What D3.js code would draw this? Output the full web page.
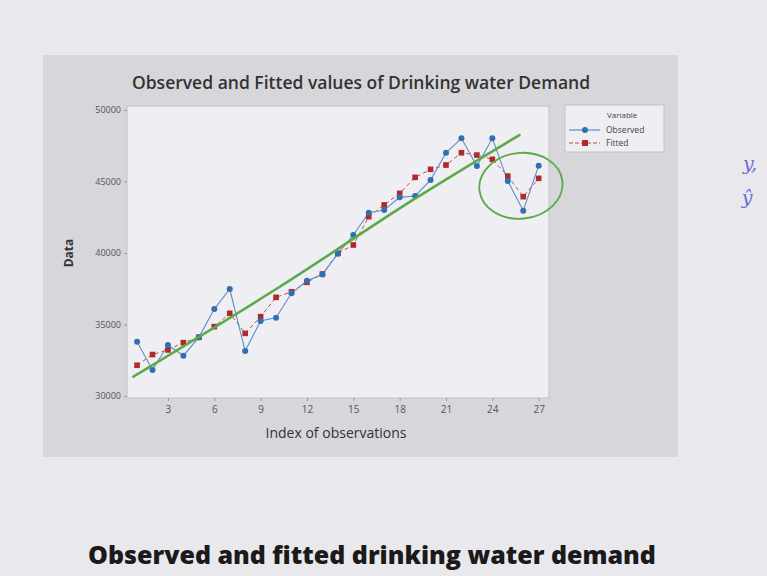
<!DOCTYPE html>
<html>
<head>
<meta charset="utf-8">
<script src="https://cdn.jsdelivr.net/npm/d3@7"></script>
<style>
  html, body { margin: 0; padding: 0; background: #e9e8ec; }
  svg { display: block; }
</style>
</head>
<body>
<svg id="chart" width="767" height="576"></svg>
<script>
// Observation index and the two series: measured demand and model fit
const index = d3.range(1, 28);
const observed = [33800, 31820, 33570, 32820, 34100, 36080, 37480, 33150, 35240, 35480,
                  37180, 38060, 38500, 39950, 41260, 42820, 43010, 43890, 43990, 45100,
                  47010, 48020, 46080, 48020, 45030, 42960, 46110];
const fitted   = [32150, 32900, 33220, 33730, 34100, 34850, 35780, 34380, 35550, 36900,
                  37290, 37950, 38530, 39980, 40560, 42540, 43360, 44170, 45290, 45850,
                  46150, 47010, 46850, 46550, 45380, 43940, 45220];
const xTicks = [3, 6, 9, 12, 15, 18, 21, 24, 27];
const yTicks = [30000, 35000, 40000, 45000, 50000];
const seriesNames = ["Observed", "Fitted"];

// Hand-drawn trend stroke and circled region (index, demand)
const trendStroke = [[0.76, 31350], [10.24, 37640], [18.86, 43710], [25.75, 48250]];
const circled = { cx: 25.85, cy: 44700, rx: 2.7, ry: 2300 };

const svg = d3.select("#chart");
const font = "Open Sans, sans-serif";

// Grey chart panel
svg.append("rect").attr("x", 43).attr("y", 55).attr("width", 635).attr("height", 402)
  .attr("fill", "#d7d6da");

const plot = { left: 127, top: 106, right: 549, bottom: 398 };

const x = d3.scaleLinear().domain([0, 27.7]).range([121.6, 549.5]);
const y = d3.scaleLinear().domain([30000, 50000]).range([396, 110]);

// Plot area
svg.append("rect")
  .attr("x", plot.left).attr("y", plot.top)
  .attr("width", plot.right - plot.left).attr("height", plot.bottom - plot.top)
  .attr("fill", "#efeef2").attr("stroke", "#c4c3c7").attr("stroke-width", 1);

// Title
svg.append("text").attr("x", 361).attr("y", 89)
  .attr("text-anchor", "middle")
  .attr("font-family", font).attr("font-size", 17.5).attr("font-weight", 600)
  .attr("fill", "#333").text("Observed and Fitted values of Drinking water Demand");

// Axes
const xAxis = d3.axisBottom(x).tickValues(xTicks).tickSize(3).tickPadding(5);
const gx = svg.append("g").attr("transform", `translate(0,${plot.bottom})`).call(xAxis);
gx.select(".domain").remove();
gx.selectAll("line").attr("stroke", "#999");
gx.selectAll("text").attr("font-family", font).attr("font-size", 10).attr("fill", "#555");

const yAxis = d3.axisLeft(y).tickValues(yTicks).tickFormat(d3.format("d")).tickSize(3).tickPadding(3);
const gy = svg.append("g").attr("transform", `translate(${plot.left},0)`).call(yAxis);
gy.select(".domain").remove();
gy.selectAll("line").attr("stroke", "#999");
gy.selectAll("text").attr("font-family", font).attr("font-size", 9).attr("fill", "#555");

// Axis titles
svg.append("text").attr("x", 336).attr("y", 438).attr("text-anchor", "middle")
  .attr("font-family", font).attr("font-size", 14).attr("fill", "#333")
  .text("Index of observations");
svg.append("text").attr("transform", "translate(73,253) rotate(-90)")
  .attr("text-anchor", "middle")
  .attr("font-family", font).attr("font-size", 12).attr("font-weight", "bold")
  .attr("fill", "#333").text("Data");

const line = d3.line().x((d, i) => x(index[i])).y(d => y(d));

// Fitted series: dashed red line with square markers
svg.append("path").datum(fitted).attr("d", line)
  .attr("fill", "none").attr("stroke", "#c05050").attr("stroke-width", 1)
  .attr("stroke-dasharray", "4,3");
// Observed series: blue line with round markers
svg.append("path").datum(observed).attr("d", line)
  .attr("fill", "none").attr("stroke", "#5b8fc8").attr("stroke-width", 1.1);

svg.append("g").selectAll("rect").data(fitted).join("rect")
  .attr("x", (d, i) => x(index[i]) - 2.8).attr("y", d => y(d) - 2.8)
  .attr("width", 5.6).attr("height", 5.6)
  .attr("fill", "#b02a2a");
svg.append("g").selectAll("circle").data(observed).join("circle")
  .attr("cx", (d, i) => x(index[i])).attr("cy", d => y(d)).attr("r", 3)
  .attr("fill", "#2f6fb2");

// Green hand-drawn annotations
svg.append("path").datum(trendStroke)
  .attr("d", d3.line().curve(d3.curveCatmullRom).x(d => x(d[0])).y(d => y(d[1])))
  .attr("fill", "none").attr("stroke", "#5aaa4a").attr("stroke-width", 2.6)
  .attr("stroke-linecap", "round");
svg.append("ellipse")
  .attr("cx", x(circled.cx)).attr("cy", y(circled.cy))
  .attr("rx", x(circled.cx + circled.rx) - x(circled.cx))
  .attr("ry", y(circled.cy) - y(circled.cy + circled.ry))
  .attr("transform", `rotate(-6,${x(circled.cx)},${y(circled.cy)})`)
  .attr("fill", "none").attr("stroke", "#5aaa4a").attr("stroke-width", 1.8);

// Legend
const lg = svg.append("g");
lg.append("rect").attr("x", 565).attr("y", 105).attr("width", 99).attr("height", 47)
  .attr("fill", "#efeef2").attr("stroke", "#c4c3c7");
lg.append("text").attr("x", 607).attr("y", 118)
  .attr("font-family", font).attr("font-size", 8).attr("fill", "#444")
  .text("Variable");
seriesNames.forEach((name, i) => {
  const yy = 130 + i * 13;
  const isObs = i === 0;
  lg.append("line").attr("x1", 569).attr("x2", 600).attr("y1", yy).attr("y2", yy)
    .attr("stroke", isObs ? "#5b8fc8" : "#c05050").attr("stroke-width", 1.2)
    .attr("stroke-dasharray", isObs ? null : "4,2");
  if (isObs) {
    lg.append("circle").attr("cx", 585).attr("cy", yy).attr("r", 3).attr("fill", "#2f6fb2");
  } else {
    lg.append("rect").attr("x", 582).attr("y", yy - 3).attr("width", 6).attr("height", 6).attr("fill", "#b02a2a");
  }
  lg.append("text").attr("x", 606).attr("y", yy + 3)
    .attr("font-family", font).attr("font-size", 8.5).attr("fill", "#444")
    .text(name);
});

// Margin note
svg.append("text").attr("x", 750).attr("y", 170).attr("text-anchor", "middle")
  .attr("font-family", "DejaVu Serif, serif").attr("font-style", "italic").attr("font-size", 19)
  .attr("fill", "#6b6bd6").text("y,");
svg.append("text").attr("x", 747).attr("y", 204).attr("text-anchor", "middle")
  .attr("font-family", "DejaVu Serif, serif").attr("font-style", "italic").attr("font-size", 19)
  .attr("fill", "#6b6bd6").text("ŷ");

// Caption
svg.append("text").attr("x", 372).attr("y", 564).attr("text-anchor", "middle")
  .attr("font-family", font).attr("font-weight", 800).attr("font-size", 25)
  .attr("fill", "#1a1a1a").text("Observed and fitted drinking water demand");
</script>
</body>
</html>
